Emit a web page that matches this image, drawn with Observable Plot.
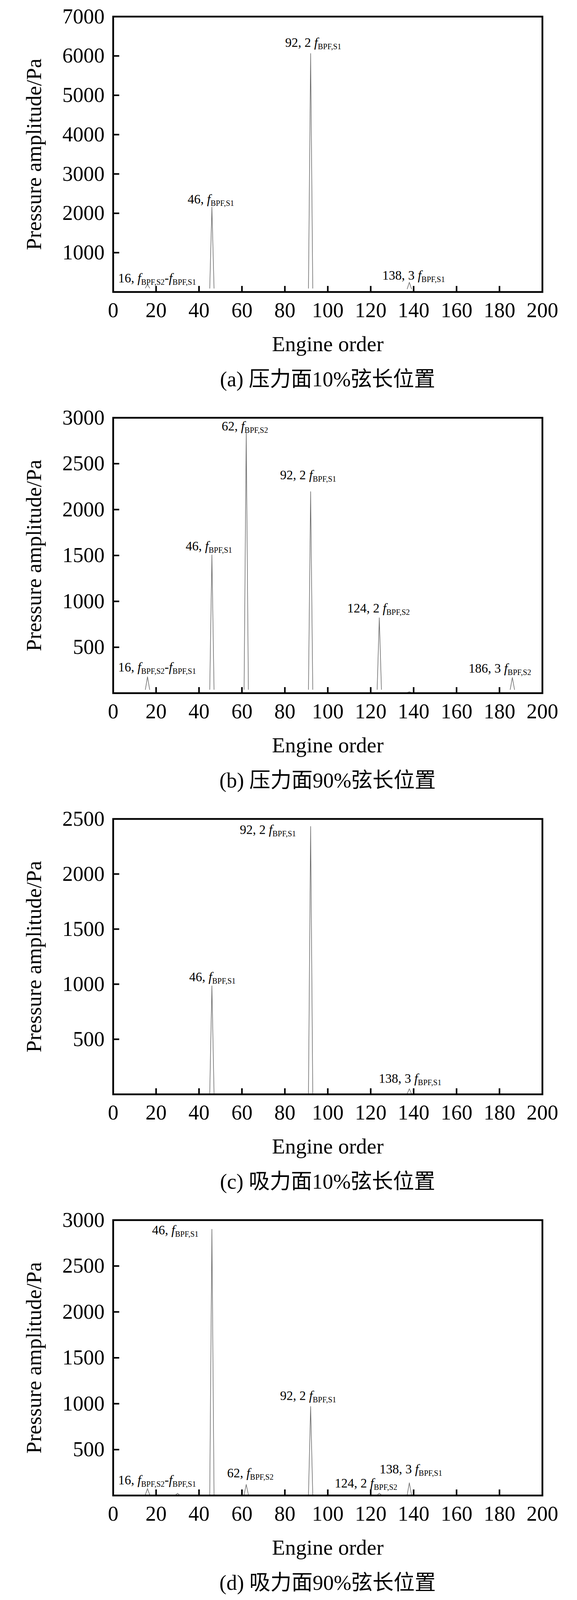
<!DOCTYPE html>
<html>
<head>
<meta charset="utf-8">
<script src="https://cdn.jsdelivr.net/npm/d3@7"></script>
<script src="https://cdn.jsdelivr.net/npm/@observablehq/plot@0.6"></script>
<style>
html, body { margin: 0; padding: 0; background: #fff; overflow: hidden; }
#page { position: relative; width: 1476px; overflow: hidden; background: #fff; }
.block { position: absolute; left: 0; width: 1476px; }
.block svg { display: block; }
.caption {
  width: 1476px; box-sizing: border-box;
  padding-left: 200px; text-align: center; white-space: pre;
  font-family: "Liberation Serif", "Noto Sans CJK SC", serif; font-size: 54px; color: #000;
}
</style>
</head>
<body>
<div id="page"></div>
<script>
// ---------- data ----------
const xTicks = [0, 20, 40, 60, 80, 100, 120, 140, 160, 180, 200];

// (a) pressure side, 10% chord
const yTicksA = [1000, 2000, 3000, 4000, 5000, 6000, 7000];
const specA_order = [15, 16, 17, 45, 46, 47, 91, 92, 93, 137, 138, 139];
const specA_amp   = [100, 190, 100, 95, 2160, 95, 95, 6060, 95, 80, 245, 80];
const specA_group = [0, 0, 0, 1, 1, 1, 2, 2, 2, 3, 3, 3];
const labelA_order = [16, 46, 92, 138];
const labelA_text  = ["16, fBPF,S2-fBPF,S1", "46, fBPF,S1", "92, 2 fBPF,S1", "138, 3 fBPF,S1"];

// (b) pressure side, 90% chord
const yTicksB = [500, 1000, 1500, 2000, 2500, 3000];
const specB_order = [15, 16, 17, 45, 46, 47, 61, 62, 63, 91, 92, 93, 123, 124, 125, 137, 138, 139, 185, 186, 187];
const specB_amp   = [40, 178, 40, 40, 1506, 40, 40, 2835, 40, 40, 2195, 40, 40, 821, 40, 5, 15, 5, 40, 170, 40];
const specB_group = [0, 0, 0, 1, 1, 1, 2, 2, 2, 3, 3, 3, 4, 4, 4, 5, 5, 5, 6, 6, 6];
const labelB_order = [16, 46, 62, 92, 124, 186];
const labelB_text  = ["16, fBPF,S2-fBPF,S1", "46, fBPF,S1", "62, fBPF,S2", "92, 2 fBPF,S1", "124, 2 fBPF,S2", "186, 3 fBPF,S2"];

// (c) suction side, 10% chord
const yTicksC = [500, 1000, 1500, 2000, 2500];
const specC_order = [45, 46, 47, 91, 92, 93, 137, 138, 139];
const specC_amp   = [10, 985, 10, 10, 2432, 10, 5, 50, 5];
const specC_group = [0, 0, 0, 1, 1, 1, 2, 2, 2];
const labelC_order = [46, 92, 138];
const labelC_text  = ["46, fBPF,S1", "92, 2 fBPF,S1", "138, 3 fBPF,S1"];

// (d) suction side, 90% chord
const yTicksD = [500, 1000, 1500, 2000, 2500, 3000];
const specD_order = [15, 16, 17, 29, 30, 31, 45, 46, 47, 61, 62, 63, 91, 92, 93, 123, 124, 125, 137, 138, 139];
const specD_amp   = [8, 75, 8, 4, 24, 4, 8, 2900, 8, 8, 120, 8, 8, 970, 8, 4, 25, 4, 8, 138, 8];
const specD_group = [0, 0, 0, 1, 1, 1, 2, 2, 2, 3, 3, 3, 4, 4, 4, 5, 5, 5, 6, 6, 6];
const labelD_order = [16, 46, 62, 92, 124, 138];
const labelD_text  = ["16, fBPF,S2-fBPF,S1", "46, fBPF,S1", "62, fBPF,S2", "92, 2 fBPF,S1", "124, 2 fBPF,S2", "138, 3 fBPF,S1"];

const captions = ["(a) 压力面10%弦长位置", "(b) 压力面90%弦长位置", "(c) 吸力面10%弦长位置", "(d) 吸力面90%弦长位置"];

// ---------- layout (pixel offsets, kept apart from the data) ----------
const PAGE_H = 4466;
const viewH = Math.min(PAGE_H, window.innerHeight || PAGE_H);
const TOP_PAD = 12;                                   // space above the first frame's top label
const SHRINK = Math.max(0, Math.ceil((4454 + TOP_PAD - viewH) / 4));
const PITCH = 1120 - SHRINK;                          // distance between panels
const MT = 30, FH = 798 - SHRINK, MB = 151;           // frame top margin, frame height, bottom margin
const CAP_H = 2 * (224 - MB);                         // caption box centred 224 px below the frame
const labelLayout = [
  { dx: [-75, -62, -65, -69], dy: [-5, -9, -17, -7] },
  { dx: [-75, -67, -63, -78, -82, -112], dy: [-14, -12, -6, -32, -14, -13] },
  { dx: [-58, -181, -78], dy: [-12, 19, -15] },
  { dx: [-75, -153, -49, -78, -114, -76], dy: [-11, 13, -18, -17, -15, -24] }
];

const panels = [
  { yTicks: yTicksA, order: specA_order, amp: specA_amp, group: specA_group, lo: labelA_order, lt: labelA_text },
  { yTicks: yTicksB, order: specB_order, amp: specB_amp, group: specB_group, lo: labelB_order, lt: labelB_text },
  { yTicks: yTicksC, order: specC_order, amp: specC_amp, group: specC_group, lo: labelC_order, lt: labelC_text },
  { yTicks: yTicksD, order: specD_order, amp: specD_amp, group: specD_group, lo: labelD_order, lt: labelD_text }
];

const SVGNS = "http://www.w3.org/2000/svg";
function richify(textEl) {
  const s = textEl.textContent;
  textEl.textContent = "";
  textEl.setAttribute("style", "white-space: pre");
  const re = /f(BPF,S\d)/g;
  let last = 0, m, shifted = false;
  const add = (str, attrs) => {
    const t = document.createElementNS(SVGNS, "tspan");
    for (const key in attrs) if (attrs[key] != null) t.setAttribute(key, attrs[key]);
    t.textContent = str;
    textEl.appendChild(t);
  };
  while ((m = re.exec(s))) {
    if (m.index > last) { add(s.slice(last, m.index), { dy: shifted ? -6 : null }); shifted = false; }
    add("f", { "font-style": "italic", dy: shifted ? -6 : null });
    shifted = false;
    add(m[1], { "font-size": 20, dy: 6 });
    shifted = true;
    last = re.lastIndex;
  }
  if (last < s.length) add(s.slice(last), { dy: shifted ? -6 : null });
}

const W = 1476, ML = 289, MR = 89;
const H = MT + FH + MB;
const innerW = W - ML - MR;
const page = document.getElementById("page");
page.style.height = viewH + "px";

panels.forEach((p, pi) => {
  const spec = p.order.map((o, i) => ({ order: o, amp: p.amp[i], group: p.group[i] }));
  const labels = p.lo.map((o, i) => ({
    order: o,
    amp: d3.max(spec.filter(s => s.order === o), s => s.amp),
    text: p.lt[i]
  }));
  const yMax = p.yTicks[p.yTicks.length - 1];
  const lay = labelLayout[pi];

  const chart = Plot.plot({
    width: W, height: H,
    marginTop: MT, marginBottom: MB, marginLeft: ML, marginRight: MR,
    x: { domain: [0, 200] },
    y: { domain: [0, yMax] },
    style: { fontFamily: "'Liberation Serif', 'Times New Roman', serif", fontSize: "54px", color: "#000", background: "#fff", overflow: "visible" },
    marks: [
      Plot.line(spec, { x: "order", y: "amp", z: "group", stroke: "#707070", strokeWidth: 1.6 }),
      Plot.tickX(xTicks.slice(1, -1), { x: d => d, insetTop: FH - 15, stroke: "#000", strokeWidth: 4 }),
      Plot.tickY(p.yTicks.slice(0, -1), { y: d => d, insetRight: innerW - 16, stroke: "#000", strokeWidth: 4 }),
      Plot.frame({ stroke: "#000", strokeWidth: 4.5 }),
      Plot.axisX(xTicks, { tickSize: 0, tickPadding: 26, fontSize: 54, label: null, tickFormat: d => String(d) }),
      Plot.axisY(p.yTicks, { tickSize: 0, tickPadding: 22, fontSize: 54, label: null, tickFormat: d => String(d) }),
      Plot.text(["Pressure amplitude/Pa"], { text: d => d, frameAnchor: "left", textAnchor: "middle", lineAnchor: "middle", rotate: -90, dx: -202, fontSize: 55, fill: "#000" }),
      Plot.text(["Engine order"], { text: d => d, frameAnchor: "bottom", textAnchor: "middle", lineAnchor: "middle", dy: 134, fontSize: 55, fill: "#000" }),
      ...labels.map((l, i) => Plot.text([l], {
        x: "order", y: "amp", text: "text",
        textAnchor: "start", lineAnchor: "bottom",
        dx: lay.dx[i], dy: lay.dy[i], fontSize: 33, fill: "#000"
      }))
    ]
  });

  chart.querySelectorAll("text").forEach(t => {
    if (t.children.length === 0 && /fBPF,S\d/.test(t.textContent)) richify(t);
  });

  const block = document.createElement("div");
  block.className = "block";
  block.style.top = (TOP_PAD + pi * PITCH) + "px";
  block.appendChild(chart);
  const cap = document.createElement("div");
  cap.className = "caption";
  cap.style.height = CAP_H + "px";
  cap.style.lineHeight = CAP_H + "px";
  cap.textContent = captions[pi];
  block.appendChild(cap);
  page.appendChild(block);
});
</script>
</body>
</html>
